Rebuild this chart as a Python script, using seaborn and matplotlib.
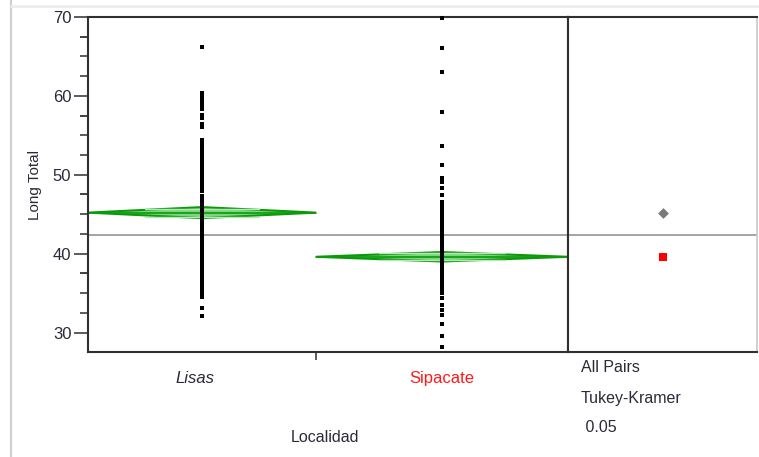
import matplotlib
matplotlib.use("Agg")
import matplotlib.pyplot as plt
from matplotlib.lines import Line2D
from matplotlib.patches import Polygon
import seaborn as sns
import pandas as pd

# ---------------- data ----------------
localidad = ["Lisas", "Sipacate"]
lisas_long = [66.2,
              60.4, 60.1, 59.8, 59.5, 59.2, 58.9, 58.6, 58.3,
              57.6, 57.2, 56.4, 56.0,
              54.4, 54.1, 53.8, 53.5, 53.2, 52.9, 52.6, 52.3, 52.0, 51.7, 51.4,
              50.8, 50.5, 50.2, 49.9, 49.6, 49.3, 49.0, 48.4, 48.0,
              47.3, 47.0, 46.7, 46.4, 46.1, 45.8, 45.5, 45.2, 44.9, 44.6,
              44.3, 44.0, 43.7, 43.4, 43.1, 42.8, 42.5, 42.2, 41.9, 41.6, 41.3,
              41.0, 40.7, 40.4, 40.1, 39.8, 39.5, 39.1, 38.7, 38.3,
              37.8, 37.3, 36.8, 36.3, 35.8, 35.3, 34.9, 34.5,
              33.1, 32.1]
sipacate_long = [69.9, 66.1, 63.0, 58.0, 53.6, 51.2, 49.6, 49.1, 48.3, 47.4,
                 46.6, 46.3, 46.0, 45.7, 45.4, 45.1, 44.8, 44.5, 44.2, 43.9,
                 43.6, 43.3, 43.0, 42.7, 42.4, 42.1, 41.8, 41.5, 41.2, 40.9,
                 40.6, 40.3, 40.0, 39.7, 39.4, 39.1, 38.8, 38.5, 38.2, 37.9,
                 37.6, 37.3, 37.0, 36.7, 36.4, 36.1, 35.8, 35.5, 35.2, 35.0,
                 34.4, 33.5, 32.8, 32.2, 31.1, 29.6, 28.2]
group_means = [45.2, 39.6]
ci_half = [0.7, 0.6]
grand_mean = 42.3
y_ticks = [30, 40, 50, 60, 70]
annot_lines = ["All Pairs", "Tukey-Kramer", " 0.05"]

# layout: relative widths of group regions on the x axis
group_width = [228, 252]

W, H = 759, 457
sns.set_style("white")
plt.rcParams["font.family"] = ["Liberation Sans", "DejaVu Sans"]
fig = plt.figure(figsize=(W / 100, H / 100), dpi=100)

def fx(px):
    return px / W

def fy(py):
    return 1 - py / H

ax = fig.add_axes([fx(88), fy(352), (568 - 88) / W, (352 - 17) / H])
ax2 = fig.add_axes([fx(568), fy(352), (757 - 568) / W, (352 - 17) / H])

lefts = [0, group_width[0]]
rights = [group_width[0], group_width[0] + group_width[1]]
centers = [(l + r) / 2 for l, r in zip(lefts, rights)]

df = pd.DataFrame({
    "x": [centers[0]] * len(lisas_long) + [centers[1]] * len(sipacate_long),
    "Long Total": lisas_long + sipacate_long,
    "Localidad": ["Lisas"] * len(lisas_long) + ["Sipacate"] * len(sipacate_long),
})

green = "#0a9a0a"
light_green = "#7fd47f"

ax.axhline(grand_mean, color="#8c8c8c", lw=1.1, zorder=1)

for i in range(2):
    l, r, c, m, h = lefts[i], rights[i], centers[i], group_means[i], ci_half[i]
    poly = Polygon([[l, m], [c, m + h], [r, m], [c, m - h]], closed=True,
                   facecolor=light_green, edgecolor=green, lw=1.5, zorder=2)
    ax.add_patch(poly)
    ax.plot([l, r], [m, m], color=green, lw=1.2, zorder=2)
    om = h / 2 ** 0.5
    span = (r - l) * 0.25
    for yy in (m + om, m - om):
        ax.plot([c - span, c + span], [yy, yy], color="#b5e8b5", lw=1.0, zorder=3)

sns.scatterplot(data=df, x="x", y="Long Total", ax=ax, marker="s", s=5,
                color="black", linewidth=0, legend=False, zorder=4, clip_on=False)

ax.set_xlim(0, rights[1])
ax.set_ylim(27.53, 70)
ax.set_yticks(y_ticks)
ax.set_yticks([t + d for t in y_ticks for d in (-2.5, 2.5, 5, 7.5)
               if 27.53 <= t + d <= 70 and (t + d) % 10 != 0], minor=True)
txt_col = "#2a2a3a"
ax.tick_params(axis="y", which="major", left=True, length=10, width=1.2,
               color="#404040", labelsize=12, labelcolor=txt_col, pad=2)
ax.tick_params(axis="y", which="minor", left=True, length=6, width=1.2,
               color="#404040")
ax.set_xticks([rights[0]])
ax.set_xticklabels([""])
ax.tick_params(axis="x", which="major", bottom=True, length=6, width=1.2,
               color="#404040")
ax.set_xlabel("")
ax.set_ylabel("Long Total", fontsize=11, color=txt_col, labelpad=8)

for sp in ax.spines.values():
    sp.set_color("#303030")
    sp.set_linewidth(1.5)

ax.text(centers[0] - 7, -0.08, "Lisas", transform=ax.get_xaxis_transform(),
        ha="center", va="center", fontsize=12, style="italic", color=txt_col)
ax.text(centers[1], -0.08, "Sipacate", transform=ax.get_xaxis_transform(),
        ha="center", va="center", fontsize=12, color="#ff1a1a")
fig.text(fx(325), fy(437), "Localidad", ha="center", va="center",
         fontsize=11.5, color=txt_col)

# right comparison panel
ax2.set_xlim(0, 1)
ax2.set_ylim(27.53, 70)
ax2.axhline(grand_mean, color="#8c8c8c", lw=1.1, zorder=1)
cmp = pd.DataFrame({"x": [0.5, 0.5], "y": group_means, "Localidad": localidad})
sns.scatterplot(data=cmp[cmp.Localidad == "Lisas"], x="x", y="y", ax=ax2,
                marker="D", s=30, color="#7a7a7a", linewidth=0, legend=False)
sns.scatterplot(data=cmp[cmp.Localidad == "Sipacate"], x="x", y="y", ax=ax2,
                marker="s", s=30, color="#ff0000", linewidth=0, legend=False)
ax2.set_xticks([])
ax2.set_yticks([])
ax2.set_xlabel("")
ax2.set_ylabel("")
for name, sp in ax2.spines.items():
    sp.set_color("#303030")
    sp.set_linewidth(1.5)
ax2.spines["right"].set_color("#c8c8c8")
ax2.spines["right"].set_linewidth(1.2)

for i, t in enumerate(annot_lines):
    fig.text(fx(581), fy(368 + 30 * i), t, ha="left", va="center",
             fontsize=11.5, color=txt_col)

fig.add_artist(Line2D([fx(11), fx(11)], [0, 1], color="#cfcfcf", lw=1.5))
fig.add_artist(Line2D([fx(11), 1], [fy(6), fy(6)], color="#ececec", lw=2))

fig.savefig("out.png", dpi=100)
